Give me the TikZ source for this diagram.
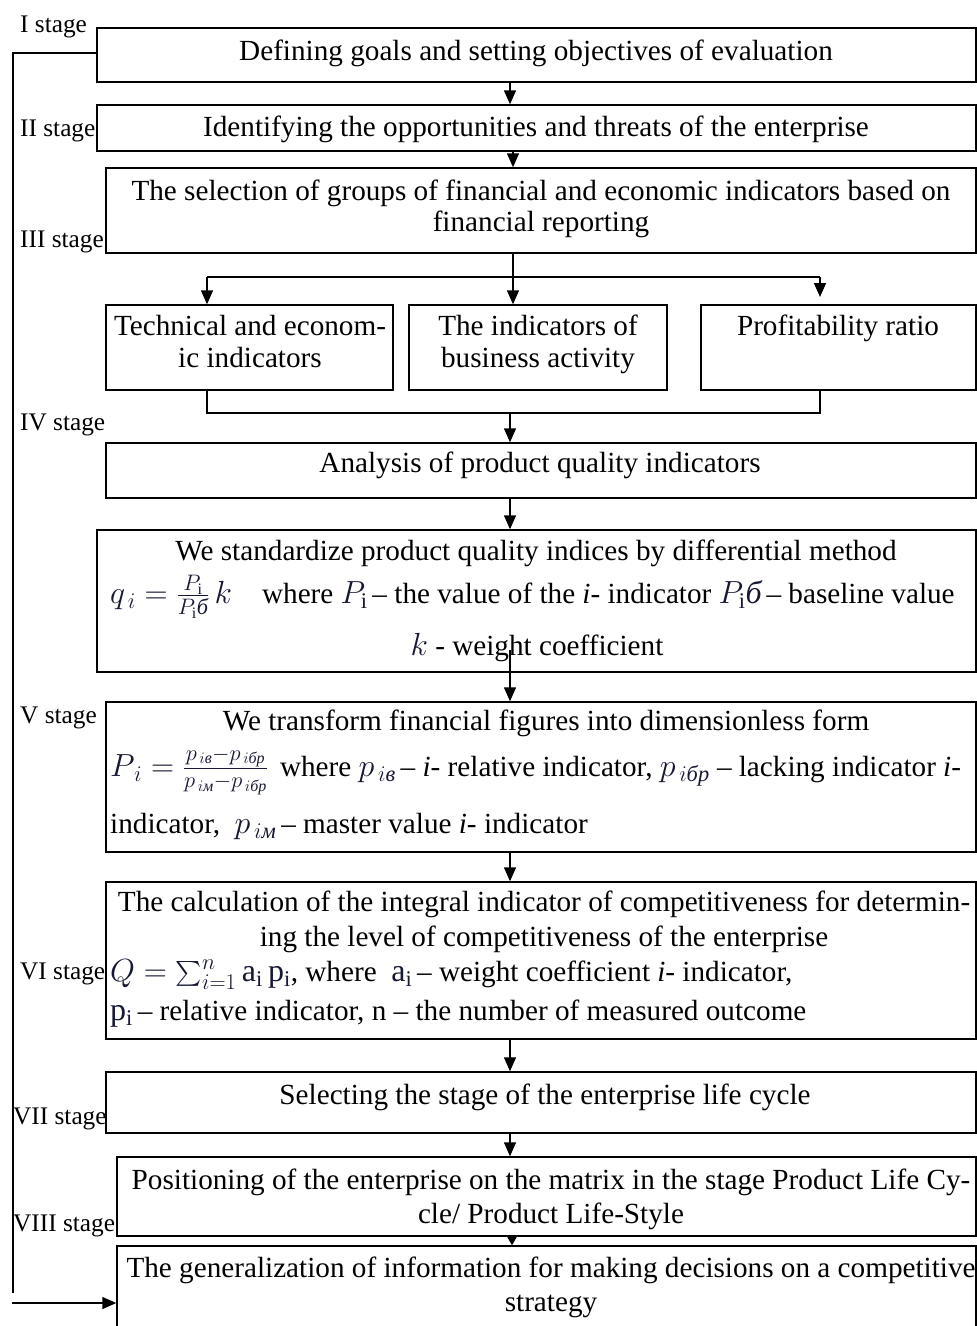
\RequirePackage{fix-cm}
\documentclass[tikz,border=0pt]{standalone}
\usepackage{amsmath}
\usepackage{fontspec}
\setmainfont{Liberation Serif}
\usetikzlibrary{arrows.meta,fit}
\definecolor{fcol}{RGB}{22,24,52}
\newcommand\mainsz{\fontsize{29.2}{32}\selectfont}
\newcommand\stagesz{\fontsize{25.3}{28}\selectfont}
\newcommand\fm[1]{{\fontsize{32}{34}\selectfont\color{fcol}$#1$}}
\tikzset{
  box/.style={draw, line width=1.5pt, inner sep=0pt, rectangle},
  txt/.style={inner sep=0pt, text height=26pt, text depth=6.5pt, font=\mainsz},
  stg/.style={inner sep=0pt, anchor=west, text height=21pt, text depth=5.5pt, font=\stagesz},
  ln/.style={line width=1.5pt},
  arr/.style={line width=1.5pt, -{Triangle[width=12pt,length=14pt]}},
  sarr/.style={line width=1.5pt, -{Triangle[width=10pt,length=9pt]}}
}
\begin{document}
\begin{tikzpicture}[x=1pt,y=-1pt]
\useasboundingbox (0,0) rectangle (977,1326);
\clip (0,0) rectangle (977,1326);
% boxes
\node[box, fit={(97,28) (976,82)}] (b1) {};
\node[box, fit={(97,105) (976,151)}] (b2) {};
\node[box, fit={(106,168) (976,253)}] (b3) {};
\node[box, fit={(106,305) (393,390)}] (b4a) {};
\node[box, fit={(409,305) (667,390)}] (b4b) {};
\node[box, fit={(701,305) (976,390)}] (b4c) {};
\node[box, fit={(106,443) (976,498)}] (b5) {};
\node[box, fit={(97,530) (976,672)}] (b6) {};
\node[box, fit={(106,702) (976,852)}] (b7) {};
\node[box, fit={(106,882) (976,1039)}] (b8) {};
\node[box, fit={(106,1072) (976,1133)}] (b9) {};
\node[box, fit={(117,1157) (976,1236)}] (b10) {};
\node[box, fit={(117,1246) (976,1345)}] (b11) {};
% stage labels
\node[stg] (s1) at (20,25) {I stage};
\node[stg] (s2) at (20,129) {II stage};
\node[stg] (s3) at (20,240) {III stage};
\node[stg] (s4) at (20,423) {IV stage};
\node[stg] (s5) at (20,716) {V stage};
\node[stg] (s6) at (20,972) {VI stage};
\node[stg] (s7) at (13,1117) {VII stage};
\node[stg] (s8) at (13,1224) {VIII stage};
% texts
\node[txt] (t1) at (536,51) {Defining goals and setting objectives of evaluation};
\node[txt] (t2) at (536,127) {Identifying the opportunities and threats of the enterprise};
\node[txt] (t3a) at (541,191) {The selection of groups of financial and economic indicators based on};
\node[txt] (t3b) at (541,222) {financial reporting};
\node[txt] (t4a1) at (250,326) {Technical and econom-};
\node[txt] (t4a2) at (250,358) {ic indicators};
\node[txt] (t4b1) at (538,326) {The indicators of};
\node[txt] (t4b2) at (538,358) {business activity};
\node[txt] (t4c) at (838,326) {Profitability ratio};
\node[txt] (t5) at (540,463) {Analysis of product quality indicators};
\node[txt] (t6a) at (536,551) {We standardize product quality indices by differential method};
\node[txt, anchor=west] (t6b) at (110,594) {\fm{q_{\,i}=\frac{P_{\mathrm i}}{P_{\mathrm i}\textit{б}}\,k}\hspace{30pt}where \fm{P_{\mathrm i}}\,– the value of the \textit{i}- indicator \fm{P_{\mathrm i}\textit{б}}\,– baseline value};
\node[txt] (t6c) at (537,646) {\fm{k} - weight coefficient};
\node[txt] (t7a) at (546,721) {We transform financial figures into dimensionless form};
\node[txt, anchor=west] (t7b) at (110,767) {\fm{P_{\,i}=\frac{p_{\,i\textit{в}}-p_{\,i\textit{бр}}}{p_{\,i\textit{м}}-p_{\,i\textit{бр}}}}\hspace{12pt}where \fm{p_{\,i\textit{в}}}\,– \textit{i}- relative indicator,\ \fm{p_{\,i\textit{бр}}}\ – lacking indicator \textit{i}-};
\node[txt, anchor=west] (t7c) at (110,824) {indicator,\ \ \fm{p_{\,i\textit{м}}}\,– master value \textit{i}- indicator};
\node[txt] (t8a) at (544,902) {The calculation of the integral indicator of competitiveness for determin-};
\node[txt] (t8b) at (544,937) {ing the level of competitiveness of the enterprise};
\node[txt, anchor=west] (t8c) at (110,972) {\fm{Q=\textstyle\sum_{i=1}^{n}\mathrm{a_i\,p_i}}, where\ \ \fm{\mathrm{a_i}}\,– weight coefficient \textit{i}- indicator,};
\node[txt, anchor=west] (t8d) at (110,1011) {\fm{\mathrm{p_i}}\,– relative indicator, n – the number of measured outcome};
\node[txt] (t9) at (545,1095) {Selecting the stage of the enterprise life cycle};
\node[txt] (t10a) at (551,1180) {Positioning of the enterprise on the matrix in the stage Product Life Cy-};
\node[txt] (t10b) at (551,1214) {cle/ Product Life-Style};
\node[txt] (t11a) at (551,1268) {The generalization of information for making decisions on a competitive};
\node[txt] (t11b) at (551,1302) {strategy};
% helper coordinates
\coordinate (xa) at (510,0);
\coordinate (xb) at (513,0);
\coordinate (xc) at (207,0);
\coordinate (xd) at (820,0);
\coordinate (xe) at (512,0);
\coordinate (sp) at (513,277);
\coordinate (pa) at (820,297);
\coordinate (mg) at (510,413);
\coordinate (s67) at (510,650);
\coordinate (y53) at (0,53);
\coordinate (fb) at (13,1293);
\coordinate (fs) at (12,1303);
% connectors
\draw[arr] (b1.south -| xa) -- (b2.north -| xa);
\draw[arr] (b2.south -| xb) -- (b3.north -| xb);
\draw[ln] (b3.south -| xb) -- (sp);
\draw[ln] (sp -| xc) -- (sp -| xd);
\draw[arr] (sp -| xc) -- (b4a.north -| xc);
\draw[arr] (sp) -- (b4b.north -| xb);
\draw[arr] (sp -| xd) -- (pa);
\draw[ln] (b4a.south -| xc) |- (mg -| xd) -- (b4c.south -| xd);
\draw[arr] (mg) -- (b5.north -| xa);
\draw[arr] (b5.south -| xa) -- (b6.north -| xa);
\draw[arr] (s67) -- (b7.north -| xa);
\draw[arr] (b7.south -| xa) -- (b8.north -| xa);
\draw[arr] (b8.south -| xa) -- (b9.north -| xa);
\draw[arr] (b9.south -| xa) -- (b10.north -| xa);
\draw[sarr] (b10.south -| xe) -- (b11.north -| xe);
\draw[ln] (b1.west |- y53) -| (fb);
\draw[arr] (fs) -- (fs -| b11.west);
\end{tikzpicture}
\end{document}
